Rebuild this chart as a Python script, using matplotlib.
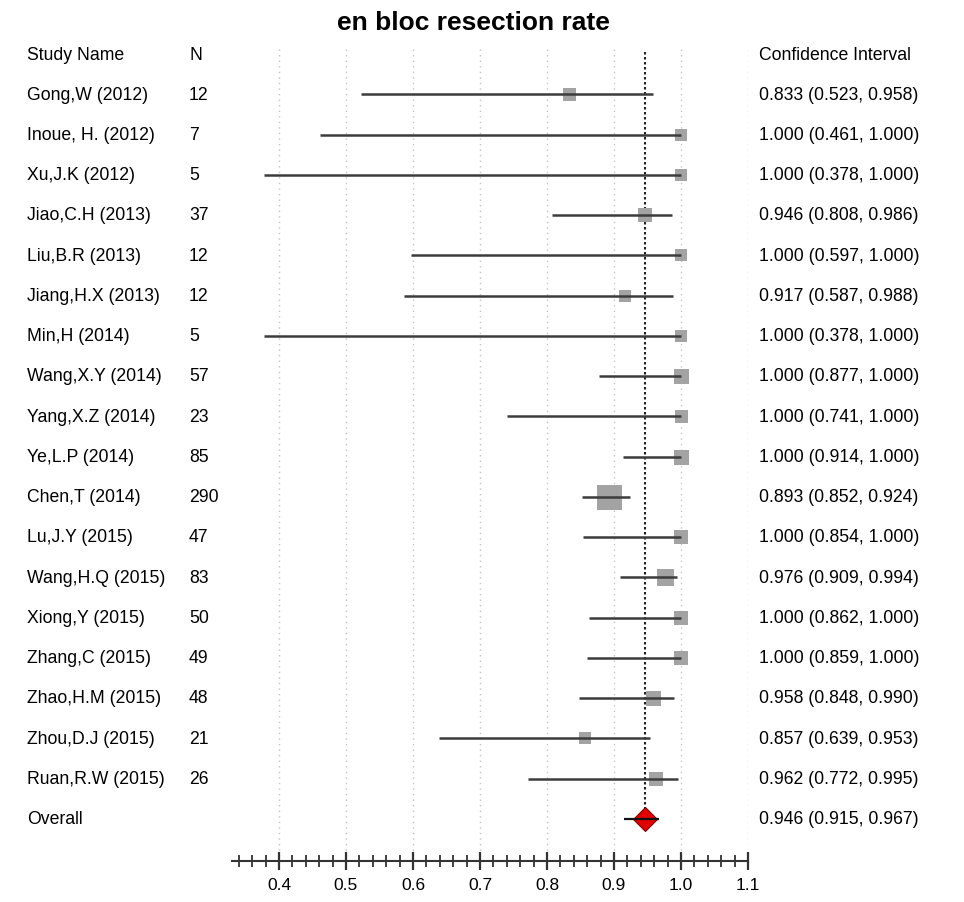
import numpy as np
import matplotlib
matplotlib.use("Agg")
import matplotlib.pyplot as plt
from matplotlib.ticker import MultipleLocator

plt.rcParams['font.family'] = ['Liberation Sans', 'DejaVu Sans']

# data
studies = ["Gong,W (2012)", "Inoue, H. (2012)", "Xu,J.K (2012)", "Jiao,C.H (2013)",
           "Liu,B.R (2013)", "Jiang,H.X (2013)", "Min,H (2014)", "Wang,X.Y (2014)",
           "Yang,X.Z (2014)", "Ye,L.P (2014)", "Chen,T (2014)", "Lu,J.Y (2015)",
           "Wang,H.Q (2015)", "Xiong,Y (2015)", "Zhang,C (2015)", "Zhao,H.M (2015)",
           "Zhou,D.J (2015)", "Ruan,R.W (2015)"]
n = [12, 7, 5, 37, 12, 12, 5, 57, 23, 85, 290, 47, 83, 50, 49, 48, 21, 26]
est = [0.833, 1.000, 1.000, 0.946, 1.000, 0.917, 1.000, 1.000, 1.000, 1.000,
       0.893, 1.000, 0.976, 1.000, 1.000, 0.958, 0.857, 0.962]
lo = [0.523, 0.461, 0.378, 0.808, 0.597, 0.587, 0.378, 0.877, 0.741, 0.914,
      0.852, 0.854, 0.909, 0.862, 0.859, 0.848, 0.639, 0.772]
hi = [0.958, 1.000, 1.000, 0.986, 1.000, 0.988, 1.000, 1.000, 1.000, 1.000,
      0.924, 1.000, 0.994, 1.000, 1.000, 0.990, 0.953, 0.995]
# relative box size (study weight)
weight = [13, 12, 12, 14, 12, 12, 12, 15, 13, 15, 25, 14, 17, 14, 14, 15, 12, 14]
overall = (0.946, 0.915, 0.967)
tick_vals = [0.4, 0.5, 0.6, 0.7, 0.8, 0.9, 1.0, 1.1]

W, H = 964, 903
fig = plt.figure(figsize=(W / 100, H / 100), dpi=100)

# forest plot region: x 0.33..1.1 -> px 232..748, bottom spine at px 862
px_per_unit = 670.0
x0, x1 = 0.33, 1.1
left_px = 279 - (0.4 - x0) * px_per_unit
right_px = 279 + (x1 - 0.4) * px_per_unit
bottom_px = 862
ax = fig.add_axes([left_px / W, (H - bottom_px) / H, (right_px - left_px) / W, bottom_px / H])

row0, row_step = 55.0, 40.25
y_bottom = (bottom_px - row0) / row_step
ax.set_xlim(x0, x1)
ax.set_ylim(y_bottom, -row0 / row_step)

for s in ['top', 'left', 'right']:
    ax.spines[s].set_visible(False)
ax.spines['bottom'].set_color('#333333')
ax.spines['bottom'].set_linewidth(1.5)
ax.set_yticks([])
ax.xaxis.set_minor_locator(MultipleLocator(0.02))
ax.set_xticks(tick_vals)
ax.set_xticklabels([f"{v:.1f}" for v in tick_vals])
ax.tick_params(axis='x', which='major', direction='inout', length=13, width=1.6,
               color='#333333', labelsize=12.5, pad=5)
ax.tick_params(axis='x', which='minor', direction='inout', length=8, width=1.3,
               color='#333333')

rows = np.arange(1, len(studies) + 1)
ov_row = len(studies) + 1

# dotted grid
for gx in tick_vals:
    ax.vlines(gx, -0.12, y_bottom, colors='#c4c4c4',
              linestyles=(0, (1, 3)), linewidth=1.0, zorder=0)

# summary dashed line
ax.vlines(overall[0], -0.05, ov_row, colors='#222222', linestyles=(0, (1.2, 1.2)),
          linewidth=1.5, zorder=1)

# study boxes and CI lines
for r, e, w in zip(rows, est, weight):
    ax.plot(e, r, marker='s', markersize=w * 0.72, color='#a3a3a3',
            markeredgewidth=0, zorder=2)
ax.hlines(rows, lo, hi, colors='#3c3c3c', linewidth=1.8, zorder=3)

# overall
ax.plot(overall[0], ov_row, marker='D', markersize=12.7, color='#e00000',
        markeredgecolor='#8a0000', markeredgewidth=0.8, zorder=4)
ax.hlines(ov_row, overall[1], overall[2], colors='#111111', linewidth=1.6, zorder=5)

# text columns (placed by pixel position converted to data x)
def px_to_x(p):
    return 0.4 + (p - 279) / px_per_unit

fs = 12.7
ax.text(px_to_x(27), 0, "Study Name", fontsize=fs, va='center', ha='left', clip_on=False)
ax.text(px_to_x(189), 0, "N", fontsize=fs, va='center', ha='left', clip_on=False)
ax.text(px_to_x(759), 0, "Confidence Interval", fontsize=fs, va='center', ha='left', clip_on=False)
for r, name, nn, e, l, h in zip(rows, studies, n, est, lo, hi):
    ax.text(px_to_x(27), r, name, fontsize=fs, va='center', ha='left', clip_on=False)
    ax.text(px_to_x(189), r, str(nn), fontsize=fs, va='center', ha='left', clip_on=False)
    ax.text(px_to_x(759), r, f"{e:.3f} ({l:.3f}, {h:.3f})", fontsize=fs,
            va='center', ha='left', clip_on=False)
ax.text(px_to_x(27), ov_row, "Overall", fontsize=fs, va='center', ha='left', clip_on=False)
ax.text(px_to_x(759), ov_row, f"{overall[0]:.3f} ({overall[1]:.3f}, {overall[2]:.3f})",
        fontsize=fs, va='center', ha='left', clip_on=False)

fig.text(473 / W, 1 - 23 / H, "en bloc resection rate", fontsize=19, fontweight='bold',
         ha='center', va='center')

fig.savefig("out.png", dpi=100)
